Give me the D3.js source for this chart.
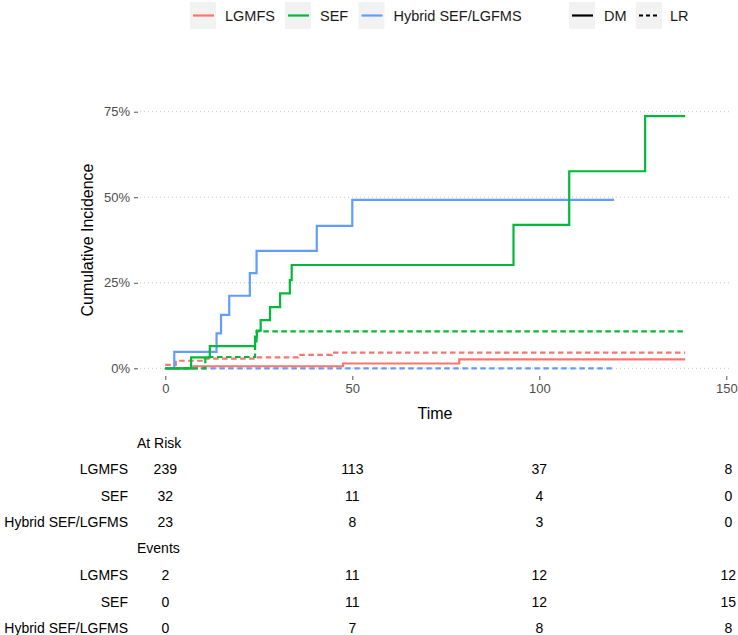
<!DOCTYPE html>
<html>
<head>
<meta charset="utf-8">
<script src="https://cdn.jsdelivr.net/npm/d3@7"></script>
<style>
  html, body { margin: 0; padding: 0; background: #ffffff; }
  svg { display: block; font-family: "Liberation Sans", Arial, sans-serif; }
</style>
</head>
<body>
<svg id="chart" width="738" height="635"></svg>
<script>
// ---- Data ----
const groups = ["LGMFS", "SEF", "Hybrid SEF/LGFMS"];
const groupColors = ["#F8766D", "#00BA38", "#619CFF"];
const outcomes = ["DM", "LR"];

// step curves: time (months) and cumulative incidence (%)
const lgmfsDM_t = [0, 7.5, 47.5, 78.6, 139];
const lgmfsDM_v = [0, 0.6, 1.4, 2.6, 2.6];
const lgmfsLR_t = [0, 2.8, 10.5, 24.0, 35.5, 44.5, 139];
const lgmfsLR_v = [1.0, 2.2, 2.8, 3.2, 3.9, 4.6, 4.6];

const sefDM_t = [0, 6.9, 11.9, 24.0, 24.5, 25.5, 28.0, 30.7, 33.3, 33.8, 93.1, 108.0, 128.3, 139];
const sefDM_v = [0, 3.2, 6.5, 9.3, 11.0, 14.1, 17.9, 21.9, 25.8, 30.2, 41.9, 57.6, 73.7, 73.7];
const sefLR_t = [0, 10.7, 24.0, 24.4, 139];
const sefLR_v = [0, 3.3, 7.0, 10.8, 10.8];

const hybDM_t = [0, 2.4, 13.7, 14.9, 17.1, 22.6, 24.4, 40.5, 50.0, 120];
const hybDM_v = [0, 4.8, 10.2, 15.6, 21.2, 27.8, 34.3, 41.6, 49.2, 49.2];
const hybLR_t = [0, 120];
const hybLR_v = [0, 0];

const xTicks = [0, 50, 100, 150];
const yTicks = [0, 25, 50, 75];

const tableTimes = [0, 50, 100, 150];
const atRisk_LGMFS = [239, 113, 37, 8];
const atRisk_SEF = [32, 11, 4, 0];
const atRisk_Hybrid = [23, 8, 3, 0];
const events_LGMFS = [2, 11, 12, 12];
const events_SEF = [0, 11, 12, 15];
const events_Hybrid = [0, 7, 8, 8];

// ---- Build series ----
function pts(t, v) { return t.map((d, i) => ({ t: d, v: v[i] })); }
const series = [
  { g: 0, o: "LR", data: pts(hybLR_t, hybLR_v) },
  { g: 0, o: "DM", data: pts(lgmfsDM_t, lgmfsDM_v) },
  { g: 0, o: "LR", data: pts(lgmfsLR_t, lgmfsLR_v) },
  { g: 1, o: "LR", data: pts(sefLR_t, sefLR_v) },
  { g: 2, o: "DM", data: pts(hybDM_t, hybDM_v) },
  { g: 1, o: "DM", data: pts(sefDM_t, sefDM_v) }
];
series[0].g = 2;

// ---- Scales ----
const svg = d3.select("#chart");
const x = d3.scaleLinear().domain([0, 150]).range([165.3, 726.3]);
const y = d3.scaleLinear().domain([0, 75]).range([368.3, 111.7]);
const panelL = 140, panelR = 729;

// grid
svg.append("g").selectAll("line").data(yTicks).join("line")
  .attr("x1", panelL).attr("x2", panelR)
  .attr("y1", d => y(d)).attr("y2", d => y(d))
  .attr("stroke", "#c4c4c4").attr("stroke-width", 1)
  .attr("stroke-dasharray", "1,3");

// y axis
const yAxis = svg.append("g").attr("transform", `translate(${panelL - 2},0)`)
  .call(d3.axisLeft(y).tickValues(yTicks).tickFormat(d => d + "%").tickSize(4).tickPadding(4));
yAxis.select(".domain").remove();
yAxis.selectAll("line").attr("stroke", "#555");
yAxis.selectAll("text").attr("fill", "#4D4D4D").style("font-size", "13px").style("font-family", "Liberation Sans, Arial, sans-serif");

// x axis
const xAxis = svg.append("g").attr("transform", `translate(0,376)`)
  .call(d3.axisBottom(x).tickValues(xTicks).tickSize(4).tickPadding(4));
xAxis.select(".domain").remove();
xAxis.selectAll("line").attr("stroke", "#555");
xAxis.selectAll("text").attr("fill", "#4D4D4D").style("font-size", "13px").style("font-family", "Liberation Sans, Arial, sans-serif");

// axis titles
svg.append("text").attr("transform", "translate(93,240) rotate(-90)")
  .attr("text-anchor", "middle").style("font-size", "16px").attr("fill", "#000")
  .text("Cumulative Incidence");
svg.append("text").attr("x", 435).attr("y", 419)
  .attr("text-anchor", "middle").style("font-size", "16px").attr("fill", "#000")
  .text("Time");

// curves
const line = d3.line().x(d => x(d.t)).y(d => y(d.v)).curve(d3.curveStepAfter);
svg.append("g").selectAll("path").data(series).join("path")
  .attr("d", d => line(d.data))
  .attr("fill", "none")
  .attr("stroke", d => groupColors[d.g])
  .attr("stroke-width", 2.2)
  .attr("stroke-dasharray", d => d.o === "LR" ? "5.5,3.5" : null);

// legend
const legItems = [
  { label: groups[0], color: groupColors[0], dash: null, bx: 190, tx: 225 },
  { label: groups[1], color: groupColors[1], dash: null, bx: 285, tx: 320 },
  { label: groups[2], color: groupColors[2], dash: null, bx: 358.5, tx: 393.5 },
  { label: outcomes[0], color: "#000", dash: null, bx: 569, tx: 604 },
  { label: outcomes[1], color: "#000", dash: "4,3", bx: 636, tx: 670 }
];
const leg = svg.append("g").selectAll("g").data(legItems).join("g");
leg.append("rect").attr("x", d => d.bx).attr("y", 2).attr("width", 26).attr("height", 27)
  .attr("fill", "#F2F2F2");
leg.append("line").attr("x1", d => d.bx + 3).attr("x2", d => d.bx + 24)
  .attr("y1", 15.5).attr("y2", 15.5)
  .attr("stroke", d => d.color).attr("stroke-width", 2.2)
  .attr("stroke-dasharray", d => d.dash);
leg.append("text").attr("x", d => d.tx).attr("y", 21)
  .style("font-size", "14.5px").attr("fill", "#1a1a1a").text(d => d.label);

// risk table
const tbl = svg.append("g");
tbl.append("text").attr("x", 137).attr("y", 448).style("font-size", "14px").attr("fill", "#000").text("At Risk");
tbl.append("text").attr("x", 137).attr("y", 553).style("font-size", "14px").attr("fill", "#000").text("Events");

const rowsData = [
  { label: groups[0], vals: atRisk_LGMFS, yy: 474 },
  { label: groups[1], vals: atRisk_SEF, yy: 501 },
  { label: groups[2], vals: atRisk_Hybrid, yy: 527 },
  { label: groups[0], vals: events_LGMFS, yy: 580 },
  { label: groups[1], vals: events_SEF, yy: 607 },
  { label: groups[2], vals: events_Hybrid, yy: 633 }
];
const rows = tbl.selectAll("g.row").data(rowsData).join("g").attr("class", "row");
rows.append("text").attr("x", 128).attr("y", d => d.yy).attr("text-anchor", "end")
  .style("font-size", "14px").attr("fill", "#000").text(d => d.label);
rows.selectAll("text.val").data(d => d.vals.map((v, i) => ({ v, t: tableTimes[i], yy: d.yy })))
  .join("text").attr("class", "val")
  .attr("x", d => x(d.t) + (d.t === 150 ? 2 : 0)).attr("y", d => d.yy).attr("text-anchor", "middle")
  .style("font-size", "14px").attr("fill", "#000").text(d => d.v);
</script>
</body>
</html>
